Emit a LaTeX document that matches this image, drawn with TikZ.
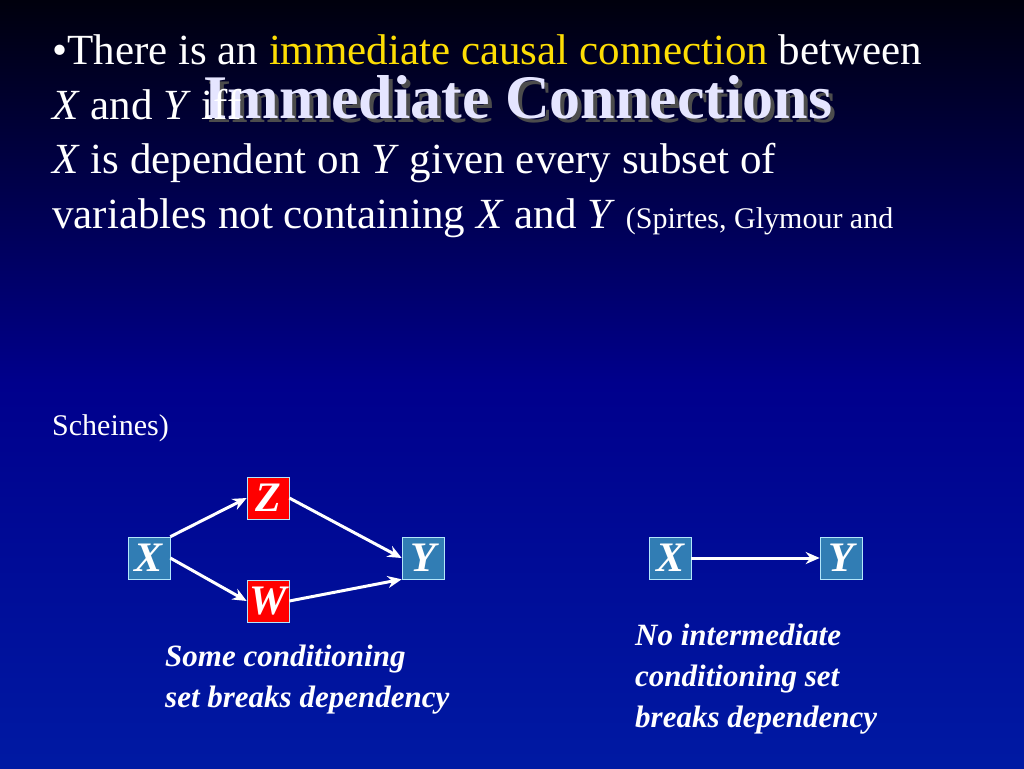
\documentclass[tikz,border=0pt]{standalone}
\usepackage{fontspec}
\setmainfont{Liberation Serif}
\usetikzlibrary{arrows.meta}
\begin{document}
\begin{tikzpicture}[x=1pt,y=-1pt,
 bx/.style={minimum width=42pt,minimum height=42pt,inner sep=0pt,draw=white!70!cyan,line width=0.6pt,font=\bfseries\itshape\fontsize{42}{42}\selectfont,text=white},
 cy/.style={bx,fill=cyan!70!blue!80!black},
 rd/.style={bx,fill=red},
 ar/.style={white,line width=3pt,-{Stealth[length=14pt,width=12pt]}},
 captxt/.style={font=\bfseries\itshape\fontsize{31}{41}\selectfont,text=white,align=left,anchor=north west,inner sep=0pt}]
\path[top color=black!95!blue,bottom color=blue!60!black!90!cyan,middle color=blue!55!black,shading angle=0] (0,0) rectangle (1024,768);
\node[font=\bfseries\fontsize{62}{70}\selectfont,text=black!70] at (522,101) {Immediate Connections};
\node[font=\bfseries\fontsize{62}{70}\selectfont,text=blue!10!white] at (518,97) {Immediate Connections};
\node[anchor=base west,align=left,text=white,font=\fontsize{43}{54.5}\selectfont,inner sep=0pt] (body) at (52,228) {%
\textbullet There is an \textcolor{yellow!80!orange}{immediate causal connection} between\\
\textit{X} and \textit{Y} iff\\
\textit{X} is dependent on \textit{Y} given every subset of\\
variables not containing \textit{X} and \textit{Y} {\fontsize{30}{30}\selectfont(Spirtes, Glymour and}};
\node[anchor=base west,text=white,font=\fontsize{30}{30}\selectfont,inner sep=0pt] (sch) at (52,435) {Scheines)};
\node[cy] (x1) at (149,558) {X};
\node[rd] (z) at (268,498) {Z};
\node[rd] (w) at (268,601) {W};
\node[cy] (y1) at (423,558) {Y};
\draw[ar] (x1.north east) -- (z.west);
\draw[ar] (x1.east) -- (w.west);
\draw[ar] (z.east) -- (y1.west);
\draw[ar] (w.east) -- (y1.south west);
\node[cy] (x2) at (670,558) {X};
\node[cy] (y2) at (841,558) {Y};
\draw[ar] (x2) -- (y2);
\node[captxt] (c1) at (165,645) {Some conditioning\\set breaks dependency};
\node[captxt] (c2) at (635,624) {No intermediate\\conditioning set\\breaks dependency};
\end{tikzpicture}
\end{document}
